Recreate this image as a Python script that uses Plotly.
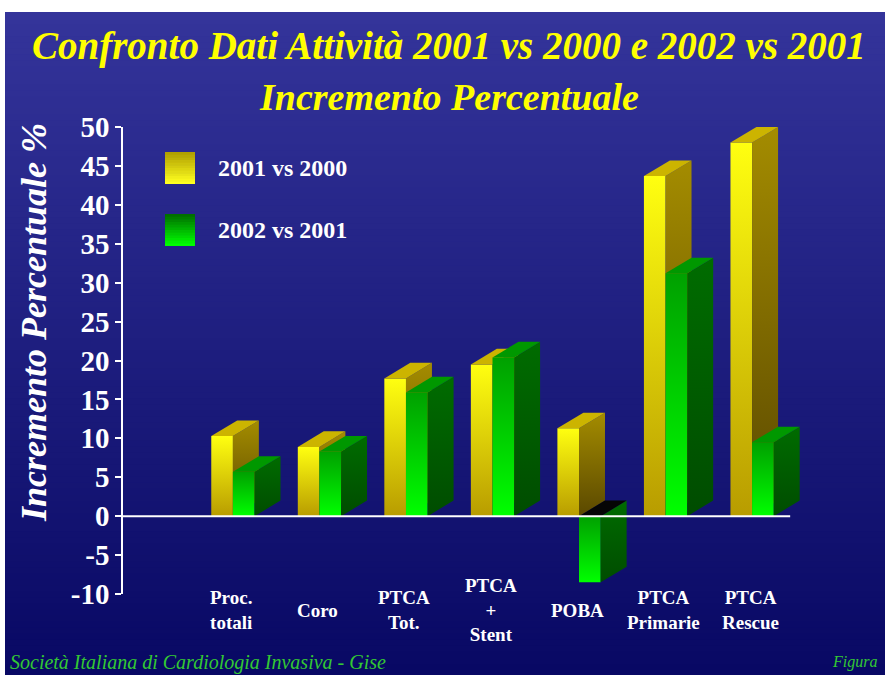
import plotly.graph_objects as go

# ---------------- data ----------------
categories = ["Proc.<br>totali", "Coro", "PTCA<br>Tot.", "PTCA<br>+<br>Stent",
              "POBA", "PTCA<br>Primarie", "PTCA<br>Rescue"]
series_names = ["2001 vs 2000", "2002 vs 2001"]
values_2001_vs_2000 = [10.3, 8.9, 17.7, 19.5, 11.3, 43.7, 48.0]
values_2002_vs_2001 = [5.7, 8.3, 15.9, 20.4, -8.5, 31.2, 9.5]
y_ticks = [-10, -5, 0, 5, 10, 15, 20, 25, 30, 35, 40, 45, 50]
y_tick_labels = ["-10", "-5", "0", "5", "10", "15", "20", "25", "30", "35", "40", "45", "50"]

# ---------------- layout constants ----------------
W, H = 885, 675
L, R, T, B = 123, 68, 127, 81
PW, PH = W - L - R, H - T - B
XR = [-1.02, 7.0]
YR = [-10, 50]

BAR_W = 0.25   # width of each front face (x units)
DX = 0.30      # 3D depth offset in x units
DY = 2.0       # 3D depth offset in y units

SERIF = "Liberation Serif"


def px_x(px):
    return (px - L) / PW


def px_y(py):
    return (H - B - py) / PH


def hexrgb(c):
    c = c.lstrip("#")
    return tuple(int(c[i:i + 2], 16) for i in (0, 2, 4))


def mix(c1, c2, t):
    a, b = hexrgb(c1), hexrgb(c2)
    return "rgb(%d,%d,%d)" % tuple(round(a[k] + (b[k] - a[k]) * t) for k in range(3))


fig = go.Figure()

# ---------------- background gradient (bands) ----------------
N = 110
top_bg, bot_bg = "#34349a", "#080864"
y_top_px, y_bot_px = 12, 676
for k in range(N):
    p0 = y_top_px + (y_bot_px - y_top_px) * k / N
    p1 = y_top_px + (y_bot_px - y_top_px) * (k + 1) / N + 0.8
    fig.add_shape(type="rect", xref="paper", yref="paper",
                  x0=px_x(5), x1=px_x(886), y0=px_y(p1), y1=px_y(p0),
                  fillcolor=mix(top_bg, bot_bg, k / (N - 1)), line_width=0, layer="below")


# ---------------- 3D bars ----------------
def face(xs, ys, top=None, bottom=None, solid=None):
    kw = dict(x=xs + [xs[0]], y=ys + [ys[0]], mode="lines", fill="toself",
              line=dict(width=0), hoverinfo="skip", showlegend=False)
    if solid is not None:
        kw["fillcolor"] = solid
    else:
        kw["fillgradient"] = dict(type="vertical", colorscale=[[0, bottom], [1, top]])
    fig.add_trace(go.Scatter(**kw))


styles = [
    dict(front=("#ffff10", "#b89c00"), side=("#a48c00", "#5a4800"), top="#ccb400", cap="#1a1400"),
    dict(front=("#00a000", "#00ff00"), side=("#006c00", "#004c00"), top="#009800", cap="#050505"),
]
series_values = [values_2001_vs_2000, values_2002_vs_2001]

for i in range(len(categories)):
    for s, vals in enumerate(series_values):
        v = vals[i]
        st = styles[s]
        x0 = i + s * BAR_W
        x1 = x0 + BAR_W
        lo, hi = min(0, v), max(0, v)
        # front
        face([x0, x1, x1, x0], [lo, lo, hi, hi], top=st["front"][0], bottom=st["front"][1])
        # side
        face([x1, x1 + DX, x1 + DX, x1], [lo, lo + DY, hi + DY, hi],
             top=st["side"][0], bottom=st["side"][1])
        # top
        face([x0, x1, x1 + DX, x0 + DX], [hi, hi, hi + DY, hi + DY],
             solid=st["top"] if v >= 0 else st["cap"])

# zero line
fig.add_shape(type="line", xref="x", yref="y", x0=XR[0], x1=len(categories) - 1 + 0.69,
              y0=0, y1=0, line=dict(color="white", width=2), layer="above")

# ---------------- legend (drawn) ----------------
legend_cols = [("#b0a000", "#ffff20"), ("#007000", "#00ff00")]
legend_rows_px = [(152, 184), (214, 246)]
for (ctop, cbot), (p0, p1), name in zip(legend_cols, legend_rows_px, series_names):
    nb = 12
    for k in range(nb):
        a = p0 + (p1 - p0) * k / nb
        b = p0 + (p1 - p0) * (k + 1) / nb + 0.6
        fig.add_shape(type="rect", xref="paper", yref="paper",
                      x0=px_x(165), x1=px_x(195), y0=px_y(min(b, p1)), y1=px_y(a),
                      fillcolor=mix(ctop, cbot, k / (nb - 1)), line_width=0, layer="above")
    fig.add_annotation(text=name, xref="paper", yref="paper", x=px_x(216), y=px_y((p0 + p1) / 2),
                       xanchor="left", yanchor="middle", showarrow=False,
                       font=dict(family=SERIF, size=24, color="white", weight="bold"))

# ---------------- category labels ----------------
for i, lab in enumerate(categories):
    fig.add_annotation(text=lab, xref="x", yref="paper", x=i + 0.23, y=px_y(610),
                       xanchor="center", yanchor="middle", showarrow=False,
                       font=dict(family=SERIF, size=19, color="white", weight="bold"))

# ---------------- titles ----------------
fig.add_annotation(text="Confronto Dati Attività 2001 vs 2000 e 2002 vs 2001",
                   xref="paper", yref="paper", x=px_x(449), y=px_y(46),
                   xanchor="center", yanchor="middle", showarrow=False,
                   font=dict(family=SERIF, size=39, color="#ffff00", weight="bold", style="italic"))
fig.add_annotation(text="Incremento Percentuale",
                   xref="paper", yref="paper", x=px_x(449), y=px_y(97),
                   xanchor="center", yanchor="middle", showarrow=False,
                   font=dict(family=SERIF, size=38, color="#ffff00", weight="bold", style="italic"))
fig.add_annotation(text="Incremento Percentuale %", textangle=-90,
                   xref="paper", yref="paper", x=px_x(34), y=px_y(323),
                   xanchor="center", yanchor="middle", showarrow=False,
                   font=dict(family=SERIF, size=36, color="white", weight="bold", style="italic"))

# ---------------- footer ----------------
fig.add_annotation(text="Società Italiana di Cardiologia Invasiva - Gise",
                   xref="paper", yref="paper", x=px_x(8), y=px_y(662),
                   xanchor="left", yanchor="middle", showarrow=False,
                   font=dict(family=SERIF, size=20, color="#33c833", style="italic"))
fig.add_annotation(text="Figura",
                   xref="paper", yref="paper", x=px_x(879), y=px_y(662),
                   xanchor="right", yanchor="middle", showarrow=False,
                   font=dict(family=SERIF, size=16, color="#33c833", style="italic"))

# ---------------- axes / layout ----------------
fig.update_xaxes(range=XR, visible=False, fixedrange=True)
fig.update_yaxes(range=YR, tickvals=y_ticks, ticktext=y_tick_labels,
                 showgrid=False, zeroline=False,
                 showline=True, linecolor="white", linewidth=1.5,
                 ticks="outside", ticklen=6, tickwidth=1.5, tickcolor="white",
                 tickfont=dict(family=SERIF, size=29, color="white", weight="bold"),
                 fixedrange=True)
fig.update_layout(width=W, height=H, margin=dict(l=L, r=R, t=T, b=B, pad=0),
                  paper_bgcolor="white", plot_bgcolor="rgba(0,0,0,0)",
                  showlegend=False)

fig.write_html("out.html", config={"displayModeBar": False},
               post_script="document.body.style.margin='0';document.body.style.overflow='hidden';")
